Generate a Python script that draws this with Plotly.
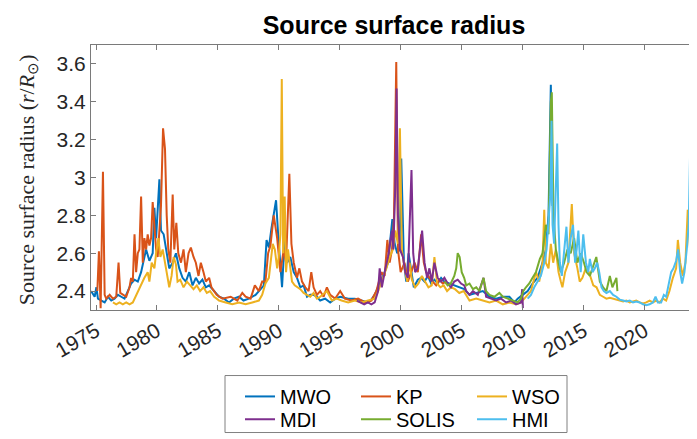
import plotly.graph_objects as go

# ---------------- data ----------------
mwo_year = [1974.6, 1974.76, 1974.89, 1975.03, 1975.16, 1975.44, 1975.71, 1975.98, 1976.25, 1976.52,
            1976.8, 1977.07, 1977.34, 1977.61, 1977.88, 1978.16, 1978.43, 1978.7, 1978.97, 1979.11,
            1979.38, 1979.65, 1979.79, 1979.93, 1980.2, 1980.33, 1980.55, 1980.74, 1981.01, 1981.29,
            1981.56, 1981.83, 1982.1, 1982.37, 1982.65, 1982.92, 1983.19, 1983.46, 1983.73, 1984.01,
            1984.28, 1984.55, 1984.82, 1985.09, 1985.5, 1985.91, 1986.3, 1986.73, 1987.1, 1987.54,
            1988.09, 1988.5, 1988.77, 1988.99, 1989.18, 1989.39, 1989.58, 1989.77, 1989.94, 1990.13,
            1990.26, 1990.48, 1990.67, 1990.94, 1991.22, 1991.49, 1991.76, 1992.03, 1992.31, 1992.58,
            1992.85, 1993.12, 1993.39, 1993.8, 1994.21, 1994.62, 1995.03, 1995.69, 1996.23, 1996.77,
            1997.32, 1997.59, 1997.86, 1998.27, 1998.68, 1998.95, 1999.31, 1999.5, 1999.71, 1999.9,
            2000.04, 2000.26, 2000.45, 2000.64, 2000.86, 2001.07, 2001.4, 2001.67, 2001.95, 2002.22,
            2002.49, 2002.76, 2003.03, 2003.31, 2003.58, 2003.99, 2004.39, 2004.8, 2005.21, 2005.64,
            2006.19, 2006.73, 2007.28, 2007.82, 2008.37, 2008.91, 2009.32, 2009.59, 2010.0, 2010.41,
            2010.81, 2011.22, 2011.63, 2011.9, 2012.12, 2012.31, 2012.45]
mwo_val = [2.40, 2.38, 2.37, 2.42, 2.36, 2.35, 2.34, 2.37, 2.35, 2.36,
           2.38, 2.37, 2.36, 2.40, 2.44, 2.46, 2.45, 2.50, 2.58, 2.62,
           2.56, 2.60, 2.84, 2.68, 2.99, 2.72, 2.70, 2.62, 2.52, 2.55,
           2.60, 2.52, 2.47, 2.45, 2.50, 2.43, 2.47, 2.44, 2.46, 2.42,
           2.43, 2.41, 2.39, 2.37, 2.36, 2.34, 2.36, 2.37, 2.35, 2.36,
           2.38, 2.41, 2.43, 2.67, 2.63, 2.73, 2.80, 2.88, 2.70, 2.55,
           2.42, 2.67, 2.55, 2.58, 2.50, 2.47, 2.42, 2.43, 2.37, 2.38,
           2.38, 2.37, 2.35, 2.36, 2.34, 2.36, 2.37, 2.36, 2.36, 2.35,
           2.34, 2.355, 2.38, 2.44, 2.50, 2.55, 2.78, 2.65, 2.60, 2.62,
           3.10, 2.55, 2.45, 2.60, 2.50, 2.42, 2.46, 2.47, 2.45, 2.48,
           2.44, 2.46, 2.44, 2.47, 2.45, 2.44, 2.43, 2.42, 2.41, 2.38,
           2.39, 2.40, 2.37, 2.36, 2.37, 2.37, 2.34, 2.36, 2.38, 2.40,
           2.44, 2.47, 2.55, 2.62, 2.80, 3.49, 2.85]

kp_year = [1975.11, 1975.24, 1975.38, 1975.57, 1975.71, 1975.84, 1976.12, 1976.39, 1976.66, 1976.85,
           1976.99, 1977.2, 1977.48, 1977.75, 1977.88, 1978.02, 1978.16, 1978.29, 1978.43, 1978.56,
           1978.7, 1978.84, 1978.97, 1979.11, 1979.24, 1979.38, 1979.52, 1979.65, 1979.79, 1979.93,
           1980.06, 1980.2, 1980.33, 1980.5, 1980.66, 1980.8, 1980.93, 1981.1, 1981.29, 1981.42,
           1981.59, 1981.75, 1981.97, 1982.18, 1982.37, 1982.59, 1982.78, 1983.0, 1983.19, 1983.41,
           1983.6, 1983.82, 1984.01, 1984.28, 1984.47, 1984.69, 1984.9, 1985.37, 1986.05, 1986.59,
           1987.0, 1987.27, 1987.68, 1988.03, 1988.36, 1988.63, 1988.9, 1989.12, 1989.31, 1989.58,
           1989.86, 1990.13, 1990.4, 1990.59, 1990.86, 1991.03, 1991.22, 1991.49, 1991.68, 1991.9,
           1992.17, 1992.44, 1992.66, 1992.85, 1993.12, 1993.39, 1993.67, 1993.94, 1994.21, 1994.62,
           1995.03, 1995.41, 1995.96, 1996.5, 1997.05, 1997.59, 1998.0, 1998.41, 1998.68, 1998.9,
           1999.09, 1999.28, 1999.44, 1999.63, 1999.77, 1999.99, 2000.31, 2000.58, 2000.86, 2001.13,
           2001.4, 2001.67, 2001.89, 2002.08, 2002.35, 2002.63, 2002.9, 2003.17, 2003.44, 2003.71]
kp_val = [2.40, 2.61, 2.31, 3.03, 2.38, 2.36, 2.38, 2.36, 2.37, 2.55,
          2.39, 2.38, 2.37, 2.42, 2.47, 2.45, 2.70, 2.50, 2.60, 2.62,
          2.90, 2.55, 2.68, 2.62, 2.70, 2.64, 2.68, 2.87, 2.72, 2.62,
          2.58, 2.75, 2.85, 3.26, 3.15, 2.80, 2.62, 2.55, 2.91, 2.62,
          2.76, 2.60, 2.55, 2.62, 2.50, 2.60, 2.63, 2.58, 2.55, 2.48,
          2.55, 2.50, 2.45, 2.47, 2.42, 2.40, 2.38, 2.36, 2.37, 2.35,
          2.39, 2.37, 2.36, 2.43, 2.40, 2.45, 2.45, 2.60, 2.64, 2.80,
          2.68, 2.50, 2.62, 2.55, 3.02, 2.65, 2.55, 2.47, 2.52, 2.45,
          2.42, 2.40, 2.50, 2.42, 2.38, 2.40, 2.37, 2.42, 2.38, 2.36,
          2.40, 2.36, 2.35, 2.36, 2.34, 2.35, 2.40, 2.50, 2.48, 2.67,
          2.55, 2.62, 2.78, 3.61, 2.62, 2.50, 2.55, 2.45, 2.50, 2.55,
          2.50, 2.70, 2.55, 2.50, 2.47, 2.45, 2.43, 2.46, 2.44, 2.45]

wso_year = [1976.39, 1976.66, 1976.93, 1977.2, 1977.48, 1977.75, 1978.02, 1978.16, 1978.43, 1978.7,
            1978.97, 1979.24, 1979.38, 1979.57, 1979.79, 1979.93, 1980.12, 1980.28, 1980.47, 1980.66,
            1980.88, 1981.01, 1981.2, 1981.37, 1981.56, 1981.69, 1981.91, 1982.18, 1982.46, 1982.73,
            1983.0, 1983.27, 1983.54, 1983.82, 1984.09, 1984.36, 1984.69, 1984.9, 1985.09, 1985.64,
            1986.18, 1986.73, 1987.27, 1987.82, 1988.36, 1988.63, 1988.9, 1989.18, 1989.34, 1989.5,
            1989.67, 1989.86, 1989.99, 1990.13, 1990.24, 1990.35, 1990.48, 1990.59, 1990.75, 1990.94,
            1991.08, 1991.3, 1991.49, 1991.76, 1992.03, 1992.31, 1992.58, 1992.85, 1993.12, 1993.39,
            1993.94, 1994.35, 1994.75, 1995.14, 1995.69, 1996.23, 1996.77, 1997.32, 1997.86, 1998.14,
            1998.54, 1998.82, 1999.09, 1999.36, 1999.55, 1999.77, 1999.93, 2000.09, 2000.31, 2000.53,
            2000.72, 2000.91, 2001.18, 2001.45, 2001.73, 2002.0, 2002.27, 2002.54, 2002.76, 2002.98,
            2003.25, 2003.52, 2003.8, 2004.12, 2004.45, 2004.8, 2005.16, 2005.64, 2006.19, 2006.73,
            2007.28, 2007.82, 2008.37, 2008.91, 2009.45, 2009.86, 2010.27, 2010.68, 2011.09, 2011.36,
            2011.63, 2011.77, 2011.9, 2012.12, 2012.31, 2012.5, 2012.72, 2012.94, 2013.13, 2013.26,
            2013.48, 2013.75, 2014.03, 2014.22, 2014.49, 2014.68, 2014.9, 2015.17, 2015.44, 2015.79,
            2016.06, 2016.33, 2016.6, 2016.87, 2017.15, 2017.42, 2017.69, 2017.96, 2018.24, 2018.51,
            2018.78, 2019.05, 2019.32, 2019.6, 2019.87, 2020.14, 2020.41, 2020.68, 2020.96, 2021.23,
            2021.5, 2021.77, 2022.04, 2022.32, 2022.59, 2022.73, 2022.92, 2023.13, 2023.35, 2023.54,
            2023.73, 2023.9, 2024.03]
wso_val = [2.34, 2.33, 2.34, 2.33, 2.34, 2.33, 2.34, 2.36, 2.40, 2.43,
           2.47, 2.50, 2.45, 2.55, 2.52, 2.60, 2.68, 2.58, 2.62, 2.55,
           2.47, 2.42, 2.48, 2.58, 2.54, 2.45, 2.46, 2.42, 2.45, 2.43,
           2.41, 2.43, 2.40, 2.42, 2.39, 2.40, 2.37, 2.36, 2.35, 2.34,
           2.33, 2.34, 2.33, 2.34, 2.35, 2.38, 2.44, 2.47, 2.55, 2.65,
           2.62, 2.52, 2.58, 2.70, 3.52, 2.60, 2.90, 2.50, 2.62, 2.50,
           2.45, 2.43, 2.42, 2.41, 2.39, 2.38, 2.37, 2.39, 2.36, 2.37,
           2.40, 2.35, 2.36, 2.35, 2.34, 2.35, 2.34, 2.35, 2.36, 2.40,
           2.47, 2.52, 2.58, 2.62, 2.72, 2.65, 3.26, 2.62, 2.52, 2.45,
           2.55, 2.46, 2.42, 2.44, 2.48, 2.45, 2.42, 2.43, 2.58, 2.44,
           2.42, 2.43, 2.40, 2.42, 2.41, 2.39, 2.40, 2.35, 2.36, 2.35,
           2.34, 2.35, 2.33, 2.34, 2.33, 2.34, 2.37, 2.40, 2.50, 2.45,
           2.55, 2.83, 2.55, 2.52, 2.65, 2.55, 2.62, 2.50, 2.45, 2.42,
           2.50, 2.55, 2.86, 2.60, 2.52, 2.45, 2.47, 2.52, 2.50, 2.43,
           2.42, 2.38, 2.37, 2.36, 2.365, 2.36, 2.355, 2.35, 2.345, 2.35,
           2.34, 2.345, 2.35, 2.34, 2.335, 2.34, 2.35, 2.34, 2.35, 2.34,
           2.36, 2.35, 2.40, 2.47, 2.52, 2.67, 2.55, 2.48, 2.55, 2.83,
           2.62, 2.70, 2.45]

mdi_year = [1996.4, 1996.7, 1997.0, 1997.3, 1997.59, 1997.86, 1998.14, 1998.27, 1998.45, 1998.68,
            1998.95, 1999.28, 1999.39, 1999.55, 1999.66, 1999.77, 1999.93, 2000.18, 2000.37, 2000.58,
            2000.75, 2000.88, 2001.02, 2001.18, 2001.4, 2001.62, 2001.75, 2001.95, 2002.16, 2002.35,
            2002.54, 2002.76, 2003.03, 2003.31, 2003.58, 2003.85, 2004.12, 2004.39, 2004.67, 2004.94,
            2005.21, 2005.37, 2005.64, 2005.92, 2006.32, 2006.79, 2007.0, 2007.41, 2007.82, 2008.23,
            2008.64, 2009.05, 2009.45, 2009.86, 2009.96, 2010.02]
mdi_val = [2.35, 2.34, 2.33, 2.34, 2.33, 2.34, 2.40, 2.52, 2.42, 2.50,
           2.58, 2.72, 2.62, 2.95, 3.47, 2.80, 2.62, 2.58, 2.50, 2.47,
           2.80, 3.04, 2.60, 2.50, 2.52, 2.65, 2.72, 2.55, 2.47, 2.52,
           2.45, 2.55, 2.47, 2.45, 2.47, 2.44, 2.42, 2.45, 2.46, 2.44,
           2.43, 2.40, 2.38, 2.40, 2.38, 2.47, 2.37, 2.36, 2.35, 2.36,
           2.34, 2.35, 2.33, 2.34, 2.41, 2.31]

solis_year = [2003.6, 2003.85, 2004.1, 2004.39, 2004.55, 2004.67, 2004.83, 2005.0, 2005.2, 2005.37,
              2005.64, 2005.92, 2006.19, 2006.46, 2006.79, 2007.0, 2007.28, 2007.68, 2008.09, 2008.37,
              2008.77, 2009.18, 2009.59, 2009.86, 2010.05, 2010.27, 2010.54, 2010.81, 2011.09, 2011.41,
              2011.63, 2011.9, 2012.12, 2012.31, 2012.39, 2012.53, 2012.72, 2012.94, 2013.13, 2013.4,
              2013.67, 2013.94, 2014.22, 2014.49, 2014.76, 2015.03, 2015.24, 2015.51, 2015.79, 2016.04,
              2016.33, 2016.6, 2016.87, 2017.15, 2017.36, 2017.55, 2017.69, 2017.77]
solis_val = [2.45, 2.43, 2.44, 2.48, 2.52, 2.60, 2.58, 2.50, 2.47, 2.43,
             2.44, 2.41, 2.42, 2.40, 2.47, 2.40, 2.38, 2.37, 2.39, 2.37,
             2.36, 2.35, 2.34, 2.36, 2.40, 2.42, 2.44, 2.47, 2.50, 2.57,
             2.60, 2.75, 2.70, 3.40, 3.45, 2.80, 2.62, 2.55, 2.50, 2.55,
             2.62, 2.60, 2.68, 2.55, 2.60, 2.55, 2.50, 2.48, 2.53, 2.58,
             2.45, 2.42, 2.40, 2.48, 2.42, 2.45, 2.47, 2.40]

hmi_year = [2010.41, 2010.68, 2010.95, 2011.22, 2011.49, 2011.77, 2011.96, 2012.12, 2012.26, 2012.37,
            2012.45, 2012.58, 2012.72, 2012.83, 2012.94, 2013.05, 2013.21, 2013.4, 2013.59, 2013.75,
            2013.94, 2014.13, 2014.3, 2014.43, 2014.57, 2014.76, 2014.97, 2015.19, 2015.38, 2015.51,
            2015.73, 2015.92, 2016.11, 2016.28, 2016.47, 2016.66, 2016.87, 2017.15, 2017.42, 2017.69,
            2017.96, 2018.24, 2018.51, 2018.78, 2019.05, 2019.32, 2019.6, 2019.87, 2020.14, 2020.41,
            2020.68, 2020.9, 2021.09, 2021.36, 2021.58, 2021.77, 2021.99, 2022.18, 2022.37, 2022.59,
            2022.75, 2022.92, 2023.08, 2023.27, 2023.46, 2023.62, 2023.73, 2023.84, 2023.95, 2024.09,
            2024.22, 2024.36]
hmi_val = [2.36, 2.38, 2.42, 2.45, 2.48, 2.55, 2.62, 2.77, 2.90, 3.30,
           2.75, 2.65, 2.95, 3.18, 2.75, 2.55, 2.48, 2.62, 2.74, 2.55,
           2.68, 2.75, 2.55, 2.62, 2.72, 2.50, 2.70, 2.55, 2.50, 2.57,
           2.50, 2.52, 2.55, 2.50, 2.42, 2.40, 2.39, 2.40, 2.38, 2.37,
           2.355, 2.35, 2.345, 2.35, 2.34, 2.345, 2.34, 2.33, 2.325, 2.33,
           2.34, 2.37, 2.34, 2.34, 2.38, 2.37, 2.44, 2.50, 2.52, 2.56,
           2.62, 2.50, 2.44, 2.50, 2.62, 2.75, 3.12, 2.75, 2.62, 2.65,
           2.72, 2.65]

x_ticks = [1975, 1980, 1985, 1990, 1995, 2000, 2005, 2010, 2015, 2020]
y_ticks = [2.4, 2.6, 2.8, 3.0, 3.2, 3.4, 3.6]
y_ticktext = ["2.4", "2.6", "2.8", "3", "3.2", "3.4", "3.6"]

series = [
    ("MWO", mwo_year, mwo_val, "#0072BD", "legend"),
    ("KP", kp_year, kp_val, "#D95319", "legend"),
    ("WSO", wso_year, wso_val, "#EDB120", "legend"),
    ("MDI", mdi_year, mdi_val, "#7E2F8E", "legend2"),
    ("SOLIS", solis_year, solis_val, "#77AC30", "legend2"),
    ("HMI", hmi_year, hmi_val, "#4DBEEE", "legend2"),
]

# ---------------- figure ----------------
fig = go.Figure()
for name, xs, ys, col, leg in series:
    fig.add_trace(go.Scatter(x=xs, y=ys, mode="lines", name=name,
                             line=dict(color=col, width=2), legend=leg))

sans = "Liberation Sans, Arial, Helvetica, sans-serif"
axis_col = "#7a7a7a"
tick_font = dict(family=sans, size=21, color="#262626")

fig.update_layout(
    width=697, height=439,
    margin=dict(l=83, r=8, t=37, b=123),
    paper_bgcolor="white", plot_bgcolor="white",
    title=dict(text="<b>Source surface radius</b>", x=0.5, xref="paper",
               y=1 - 17 / 439, yref="container", yanchor="middle", xanchor="center",
               font=dict(family=sans, size=25, color="black")),
    xaxis=dict(range=[1974.59, 2024.30], tickvals=x_ticks,
               ticktext=[str(v) for v in x_ticks], tickangle=-30,
               ticks="inside", ticklen=5, tickcolor=axis_col, showline=True,
               linecolor=axis_col, linewidth=1, mirror="ticks", showgrid=False,
               zeroline=False, tickfont=tick_font),
    yaxis=dict(range=[2.3, 3.7], tickvals=y_ticks, ticktext=y_ticktext,
               ticks="inside", ticklen=5, tickcolor=axis_col, showline=True,
               linecolor=axis_col, linewidth=1, mirror="ticks", showgrid=False,
               zeroline=False, tickfont=tick_font),
    legend=dict(orientation="h", x=(232 - 83) / 606, xanchor="left",
                y=(316 - 407) / 279, yanchor="middle", entrywidth=71,
                entrywidthmode="pixels", bgcolor="rgba(0,0,0,0)", borderwidth=0,
                font=dict(family=sans, size=20, color="black")),
    legend2=dict(orientation="h", x=(232 - 83) / 606, xanchor="left",
                 y=(316 - 431) / 279, yanchor="middle", entrywidth=71,
                 entrywidthmode="pixels", bgcolor="rgba(0,0,0,0)", borderwidth=0,
                 font=dict(family=sans, size=20, color="black")),
    shapes=[dict(type="rect", xref="paper", yref="paper",
                 x0=(217 - 83) / 606, x1=(559 - 83) / 606,
                 y0=(316 - 385) / 279, y1=(316 - 445) / 279,
                 line=dict(color="#808080", width=1), fillcolor="white", layer="below")],
    annotations=[dict(text="Source surface radius (<i>r</i>/<i>R</i><sub>⊙</sub>)",
                      textangle=-90, xref="paper", yref="paper",
                      x=(20 - 83) / 606, y=0.49, xanchor="center", yanchor="middle",
                      showarrow=False,
                      font=dict(family="Liberation Serif, Times New Roman, serif",
                                size=22, color="#262626"))],
)

fig.write_html("out.html")
